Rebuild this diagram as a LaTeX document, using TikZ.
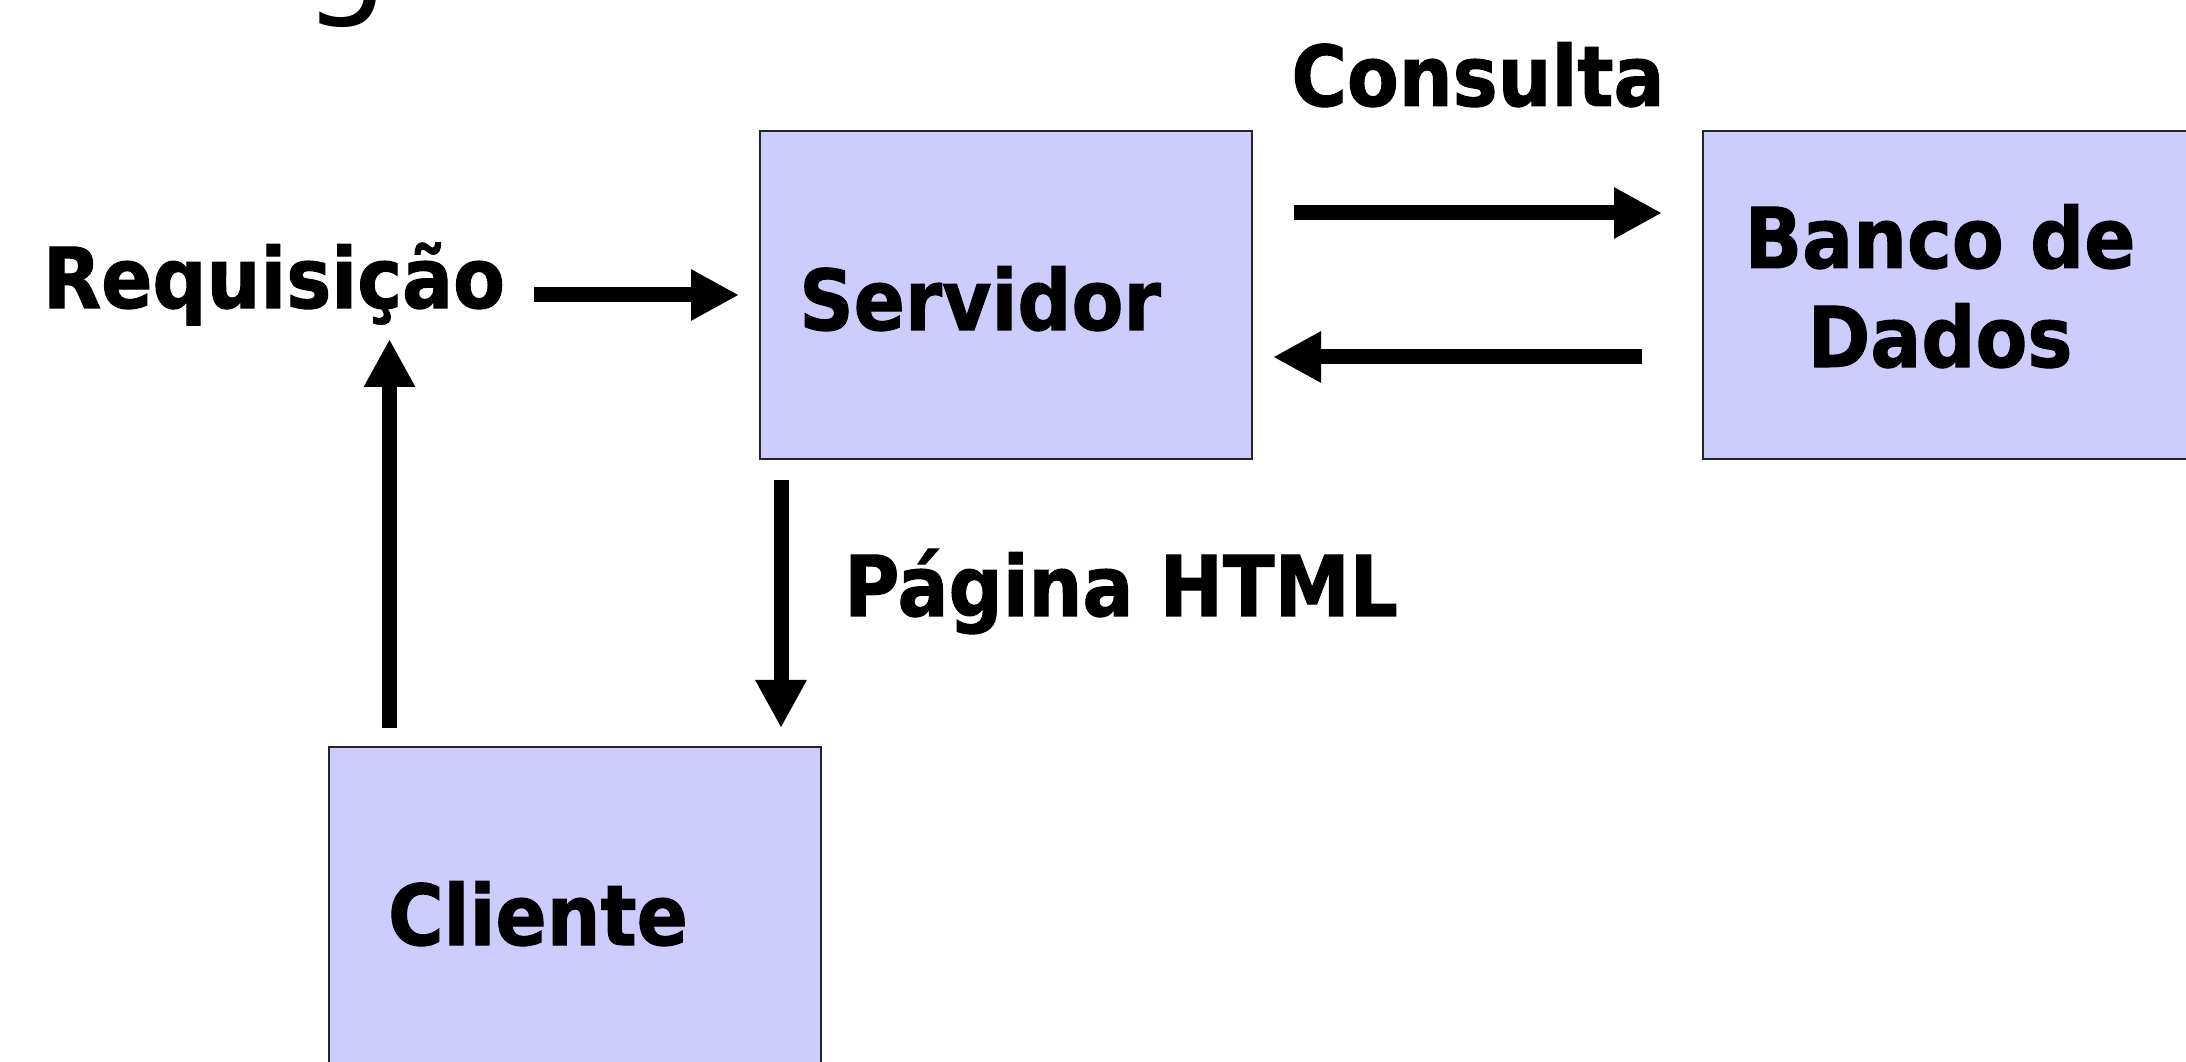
\documentclass[tikz,border=0pt]{standalone}
\usepackage{fontspec}
\newfontfamily\lbl{DejaVu Sans}[FakeStretch=0.9,FakeBold=1.2]
\newfontfamily\ttlfont{DejaVu Sans}
\usetikzlibrary{arrows.meta,calc}
\definecolor{boxfill}{HTML}{CCCCFF}
\begin{document}
\begin{tikzpicture}[x=1pt,y=1pt,
 box/.style={draw=black!85,line width=2pt,fill=boxfill,minimum width=492pt,minimum height=328pt,inner sep=0pt,outer sep=0pt},
 lab/.style={font=\lbl\bfseries\fontsize{84}{99}\selectfont,inner sep=0pt,anchor=base},
 arr/.style={line width=15pt,-{Triangle[length=48pt,width=48pt]}}]
\useasboundingbox (0,0) rectangle (2186,1061);
\clip (0,0) rectangle (2186,1061);
\fill[white] (0,0) rectangle (2186,1061);
% boxes
\node[box] (srv) at (1006,766) {};
\node[box] (db) at (1949,766) {};
\node[box] (cli) at (574.5,150) {};
% texts
\node[font=\ttlfont\fontsize{135}{145}\selectfont,inner sep=0pt,anchor=base] (ttl) at (346,1061) {g};
\node[lab] (req) at (274,753) {Requisição};
\node[lab] (srvt) at (980,731) {Servidor};
\node[lab] (cons) at (1478,955) {Consulta};
\node[lab] (dbt1) at (1940,793) {Banco de};
\node[lab] (dbt2) at (1940,694) {Dados};
\node[lab] (pag) at (1121,445) {Página HTML};
\node[lab] (clit) at (538,116) {Cliente};
% arrows
\draw[arr] ([xshift=29pt]req.east |- srv.west) -- ([xshift=-21pt]srv.west);
\draw[arr] ([shift={(42,82)}]srv.east) -- ([shift={(-41,82)}]db.west);
\draw[arr] ([shift={(-61,-62)}]db.west) -- ([shift={(21,-62)}]srv.east);
\draw[arr] ([shift={(21,-21)}]srv.south west) -- ($(srv.south west |- cli.north)+(21,19)$);
\draw[arr] ($(cli.north west)+(61,19)$) -- ($(cli.north west |- req.base)+(61,-31)$);
\end{tikzpicture}
\end{document}
